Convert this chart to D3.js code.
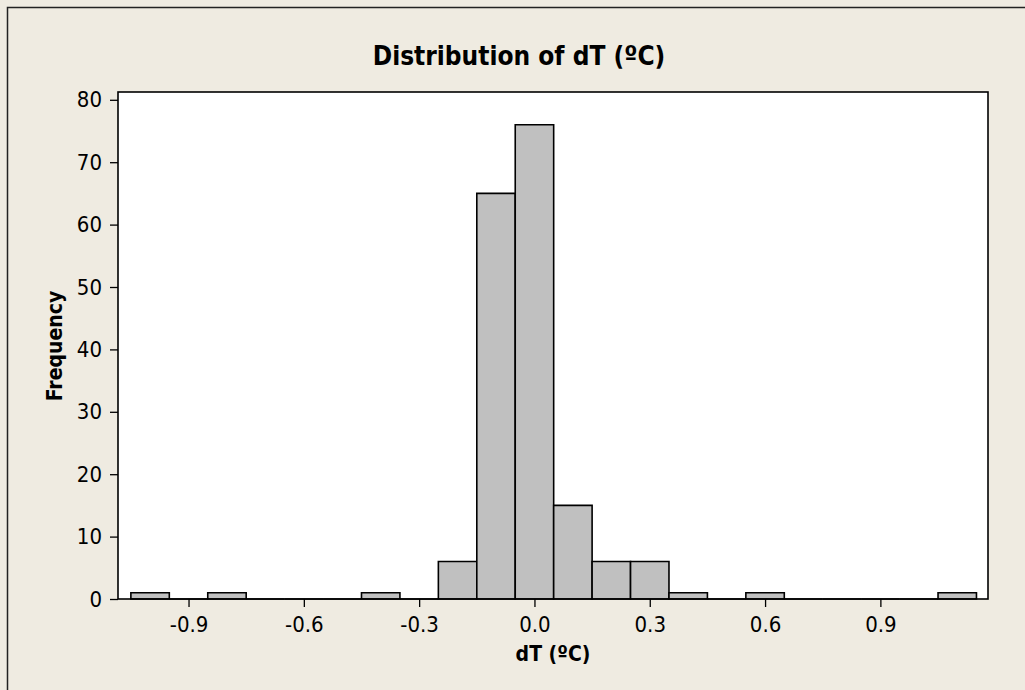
<!DOCTYPE html>
<html>
<head>
<meta charset="utf-8">
<script src="https://cdn.jsdelivr.net/npm/d3@7"></script>
<style>
  body { margin: 0; background: #efebe1; }
  svg { display: block; }
  text { font-family: "DejaVu Sans Condensed", "DejaVu Sans", sans-serif; fill: #000; }
</style>
</head>
<body>
<svg id="chart" width="1025" height="690"></svg>
<script>
// histogram data (bin centres, bin width 0.1)
const binCenters = [-1.0, -0.9, -0.8, -0.7, -0.6, -0.5, -0.4, -0.3, -0.2, -0.1, 0.0,
                    0.1, 0.2, 0.3, 0.4, 0.5, 0.6, 0.7, 0.8, 0.9, 1.0, 1.1];
const counts     = [1, 0, 1, 0, 0, 0, 1, 0, 6, 65, 76,
                    15, 6, 6, 1, 0, 1, 0, 0, 0, 0, 1];
const binWidth = 0.1;
const xTicks = [-0.9, -0.6, -0.3, 0.0, 0.3, 0.6, 0.9];
const yTicks = [0, 10, 20, 30, 40, 50, 60, 70, 80];

const svg = d3.select('#chart');

// plot box
const box = {left: 118, right: 988, top: 92, bottom: 599};

const x = d3.scaleLinear().domain([-1.0835, 1.18]).range([box.left, box.right]);
const y = d3.scaleLinear().domain([0, 81.25]).range([box.bottom, box.top]);

// outer frame (runs off the bottom/right of the picture)
svg.append('rect')
  .attr('x', 7.5).attr('y', 7.5).attr('width', 1040).attr('height', 700)
  .attr('fill', '#efebe1').attr('stroke', '#222').attr('stroke-width', 1.5);

// white data region
svg.append('rect')
  .attr('x', box.left).attr('y', box.top)
  .attr('width', box.right - box.left).attr('height', box.bottom - box.top)
  .attr('fill', '#fff');

// bars, as paths so empty bins still show as a line on the base
svg.append('g').selectAll('path')
  .data(binCenters)
  .join('path')
  .attr('d', (c, i) => {
    const x0 = x(c - binWidth / 2), x1 = x(c + binWidth / 2);
    const y0 = y(0), y1 = y(counts[i]);
    return `M${x0},${y0}V${y1}H${x1}V${y0}Z`;
  })
  .attr('fill', '#c0c0c0')
  .attr('stroke', '#000')
  .attr('stroke-width', 1.6);

// frame round the data region
svg.append('rect')
  .attr('x', box.left).attr('y', box.top)
  .attr('width', box.right - box.left).attr('height', box.bottom - box.top)
  .attr('fill', 'none').attr('stroke', '#000').attr('stroke-width', 1.6);

// axes (plain hyphen for the minus sign, like the original)
const xAxis = d3.axisBottom(x).tickValues(xTicks).tickFormat(d => d.toFixed(1))
  .tickSize(8).tickSizeOuter(0).tickPadding(9);
const gx = svg.append('g').attr('transform', `translate(0,${box.bottom})`).call(xAxis);
gx.attr('font-family', null);
gx.select('.domain').remove();
gx.selectAll('line').attr('stroke', '#000').attr('stroke-width', 1.3);
gx.selectAll('text').attr('font-size', 22);

const yAxis = d3.axisLeft(y).tickValues(yTicks).tickSize(8).tickSizeOuter(0).tickPadding(8);
const gy = svg.append('g').attr('transform', `translate(${box.left},0)`).call(yAxis);
gy.attr('font-family', null);
gy.select('.domain').remove();
gy.selectAll('line').attr('stroke', '#000').attr('stroke-width', 1.3);
gy.selectAll('text').attr('font-size', 22);

// titles
svg.append('text')
  .attr('x', 519).attr('y', 65)
  .attr('text-anchor', 'middle')
  .attr('font-size', 26).attr('font-weight', 'bold')
  .text('Distribution of dT (ºC)');

svg.append('text')
  .attr('x', (box.left + box.right) / 2).attr('y', 661)
  .attr('text-anchor', 'middle')
  .attr('font-size', 21).attr('font-weight', 'bold')
  .text('dT (ºC)');

svg.append('text')
  .attr('transform', `translate(62,346) rotate(-90)`)
  .attr('text-anchor', 'middle')
  .attr('font-size', 21).attr('font-weight', 'bold')
  .text('Frequency');
</script>
</body>
</html>
